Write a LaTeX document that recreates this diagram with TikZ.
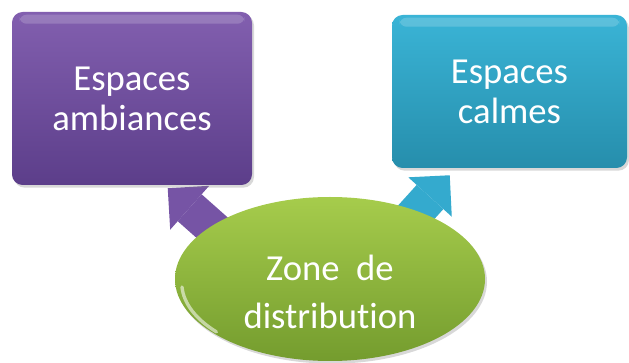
\documentclass[tikz,border=0pt]{standalone}
\usepackage{fontspec}
\setmainfont{Carlito}[Ligatures=NoCommon]
\usetikzlibrary{arrows.meta,shapes.geometric,positioning,calc,shadows,backgrounds}

\definecolor{ambiTop}{RGB}{130,95,175}
\definecolor{ambiBot}{RGB}{92,62,138}
\definecolor{ambiArr}{RGB}{118,84,165}
\definecolor{calmTop}{RGB}{58,180,214}
\definecolor{calmBot}{RGB}{38,142,172}
\definecolor{calmArr}{RGB}{52,170,206}
\definecolor{zoneTop}{RGB}{166,204,76}
\definecolor{zoneBot}{RGB}{116,156,46}

\begin{document}
\begin{tikzpicture}[
    x=0.75pt, y=-0.75pt,
    box/.style={rounded corners=8pt, align=center, text=white, inner sep=0pt,
        font=\fontsize{27.5}{30}\selectfont,
        drop shadow={opacity=0.3, shadow xshift=1.5pt, shadow yshift=-2pt}},
    zonebox/.style={ellipse, inner sep=0pt, minimum width=232.5pt, minimum height=123pt,
        top color=zoneTop, bottom color=zoneBot,
        drop shadow={opacity=0.3, shadow xshift=1.5pt, shadow yshift=-2pt}},
    zonetext/.style={text=white, align=center, yshift=-10pt,
        font=\fontsize{27.5}{36}\selectfont},
    gloss/.style={fill=white, opacity=0.18, rounded corners=5pt},
    blockarr/.style={line width=27pt, draw=#1,
        -{Triangle[length=22pt, width=44pt, line width=0pt]}}
]
\useasboundingbox (0,0) rectangle (629,363);

% boxes
\node[box, minimum width=180pt, minimum height=129.75pt,
      top color=ambiTop, bottom color=ambiBot] (ambi) at (132,98.5) {Espaces\\ambiances};
\node[box, minimum width=176.25pt, minimum height=114.75pt,
      top color=calmTop, bottom color=calmBot] (calm) at (509.5,91.5) {Espaces\\calmes};

% glossy strips
\fill[gloss] ($(ambi.north west)+(8,3)$) rectangle ($(ambi.north east)+(-8,12)$);
\fill[gloss] ($(calm.north west)+(8,3)$) rectangle ($(calm.north east)+(-8,12)$);

% central zone
\node[zonebox, label={[zonetext]center:{Zone\ \ de\\distribution}}] (zone) at (330,279) {};
\draw[white, opacity=0.55, line width=2.5pt, line cap=round] ($(zone)+(-148,8)$)
    arc[x radius=148, y radius=76, start angle=177, end angle=140];

% arrows behind the shapes
\coordinate (ambitip) at ($(ambi.south west)+(156,3)$);
\coordinate (calmtip) at ($(calm.south west)+(58,7)$);
\coordinate (ambitail) at ($(zone)+(-95,-31)$);
\coordinate (calmtail) at ($(zone)+(62,-40)$);
\begin{scope}[on background layer]
\fill[white] (0,0) rectangle (629,363);
\draw[blockarr=ambiArr] (ambitail) -- (ambitip);
\draw[blockarr=calmArr] (calmtail) -- (calmtip);
\end{scope}
\end{tikzpicture}
\end{document}
